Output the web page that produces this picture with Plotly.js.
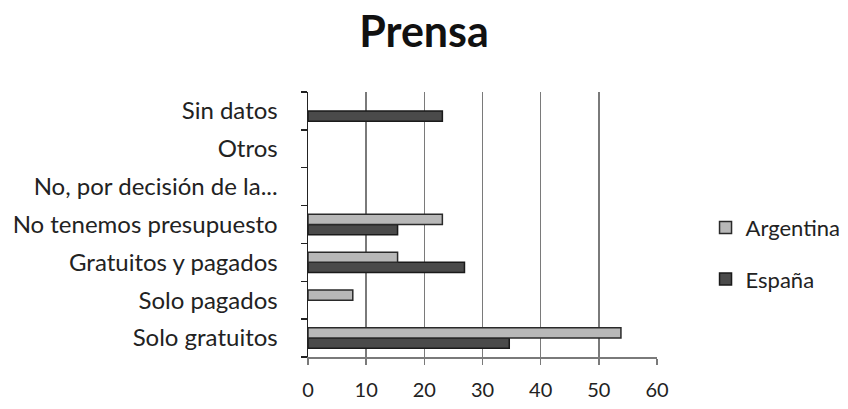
<!DOCTYPE html>
<html>
<head>
<meta charset="utf-8">
<script src="https://cdn.plot.ly/plotly-3.0.1.min.js"></script>
<style>html,body{margin:0;padding:0;background:#fff;}#chart{width:848px;height:409px;}</style>
</head>
<body>
<div id="chart"></div>
<script>
const categories = ["Solo gratuitos", "Solo pagados", "Gratuitos y pagados", "No tenemos presupuesto", "No, por decisión de la...", "Otros", "Sin datos"];
const argentina = [53.8, 7.7, 15.4, 23.1, 0, 0, 0];
const espana = [34.6, 0, 26.9, 15.4, 0, 0, 23.1];
const xTicks = [0, 10, 20, 30, 40, 50, 60];

const font = "Lato, 'Open Sans', sans-serif";
const lw = arr => arr.map(v => v === 0 ? 0 : 1.5);
const traces = [
  {type: "bar", orientation: "h", name: "España", y: categories, x: espana, legendgroup: "b", legendrank: 2,
   marker: {color: "#4a4a4a", line: {color: "#1a1a1a", width: lw(espana)}}},
  {type: "bar", orientation: "h", name: "Argentina", y: categories, x: argentina, legendgroup: "a", legendrank: 1,
   marker: {color: "#b8b8b8", line: {color: "#2a2a2a", width: lw(argentina)}}}
];
const layout = {
  width: 848, height: 409,
  margin: {l: 308, r: 191, t: 92, b: 52},
  paper_bgcolor: "#fff", plot_bgcolor: "#fff",
  title: {text: "<b>Prensa</b>", x: 0.5, xanchor: "center", y: 0.922, yanchor: "middle",
          font: {family: font, size: 43, color: "#111"}},
  barmode: "group", bargap: 0.46, bargroupgap: 0,
  showlegend: true,
  legend: {xref: "container", yref: "container", x: 0.832, xanchor: "left", y: 0.38, yanchor: "middle",
           traceorder: "grouped", tracegroupgap: 20, itemwidth: 30,
           font: {family: font, size: 22, color: "#222"}},
  xaxis: {range: [0, 60], tickvals: xTicks, ticktext: xTicks.map(String), showgrid: true,
          gridcolor: "#7a7a7a", gridwidth: 1.5, zeroline: false, showline: true,
          linecolor: "#7a7a7a", linewidth: 1.5, ticks: "outside", ticklen: 6, tickcolor: "#7a7a7a",
          tickwidth: 1.5, ticklabelstandoff: 8, tickfont: {family: font, size: 20, color: "#222"}},
  yaxis: {type: "category", categoryorder: "array", categoryarray: categories,
          tickson: "boundaries", ticks: "outside", ticklen: 6, tickcolor: "#222", tickwidth: 1.5,
          showline: true, linecolor: "#222", linewidth: 1.5, showgrid: false, zeroline: false,
          ticklabelstandoff: 24, tickfont: {family: font, size: 24, color: "#222"}}
};
Plotly.newPlot("chart", traces, layout, {displayModeBar: false, staticPlot: true});
</script>
</body>
</html>
